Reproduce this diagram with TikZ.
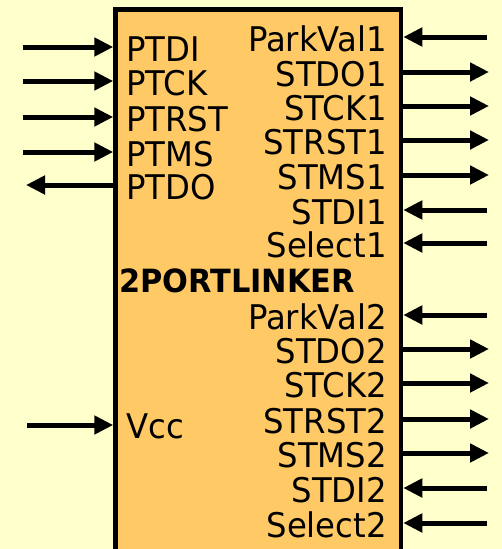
\documentclass[tikz,border=0pt]{standalone}
\usepackage{fontspec}
\setmainfont[FakeStretch=0.95]{DejaVu Sans}
\usetikzlibrary{arrows.meta}
\definecolor{bgc}{HTML}{FFFFCC}
\definecolor{boxc}{HTML}{FFCA66}
\begin{document}
\begin{tikzpicture}[x=1pt,y=-1pt,
  sig/.style={line width=5pt,-{Triangle[length=19pt,width=18pt]}},
  lbl/.style={inner sep=0pt,font=\fontsize{34}{34}\selectfont},
  llbl/.style={lbl,anchor=base west},
  rlbl/.style={lbl,anchor=base east},
  blk/.style={draw=black,line width=4.5pt,fill=boxc,anchor=north west,inner sep=0pt}]
\fill[bgc] (0,0) rectangle (502,549);
\clip (0,0) rectangle (502,549);
\node[blk,minimum width=285.5pt,minimum height=560pt] (box) at (113.25,7.25) {};
% left inputs
\foreach \n/\y in {PTDI/47,PTCK/81,PTRST/117,PTMS/152}{
  \coordinate (s\n) at (23,\y);
  \draw[sig] (s\n) -- (s\n -| box.west);
  \node[llbl] (l\n) at (126,\y+14) {\n};
}
% left output
\coordinate (sPTDO) at (26,185);
\draw[sig] (sPTDO -| box.west) -- (sPTDO);
\node[llbl] (lPTDO) at (126,199) {PTDO};
% Vcc
\coordinate (sVcc) at (27,425);
\draw[sig] (sVcc) -- (sVcc -| box.west);
\node[llbl] (lVcc) at (126,438) {Vcc};
% title
\node[anchor=base west,inner sep=0pt,font=\bfseries\fontsize{32}{32}\selectfont] (title) at (119,292) {2PORTLINKER};
% right inputs
\foreach \n/\y in {ParkVal1/37,STDI1/210,Select1/243,ParkVal2/315,STDI2/488,Select2/523}{
  \coordinate (t\n) at (487,\y);
  \draw[sig] (t\n) -- (t\n -| box.east);
  \node[rlbl] (r\n) at (387,\y+14) {\n};
}
% right outputs
\foreach \n/\y in {STDO1/72,STCK1/106,STRST1/140,STMS1/175,STDO2/349,STCK2/383,STRST2/419,STMS2/453}{
  \coordinate (t\n) at (489,\y);
  \draw[sig] (t\n -| box.east) -- (t\n);
  \node[rlbl] (r\n) at (387,\y+14) {\n};
}
\end{tikzpicture}
\end{document}
